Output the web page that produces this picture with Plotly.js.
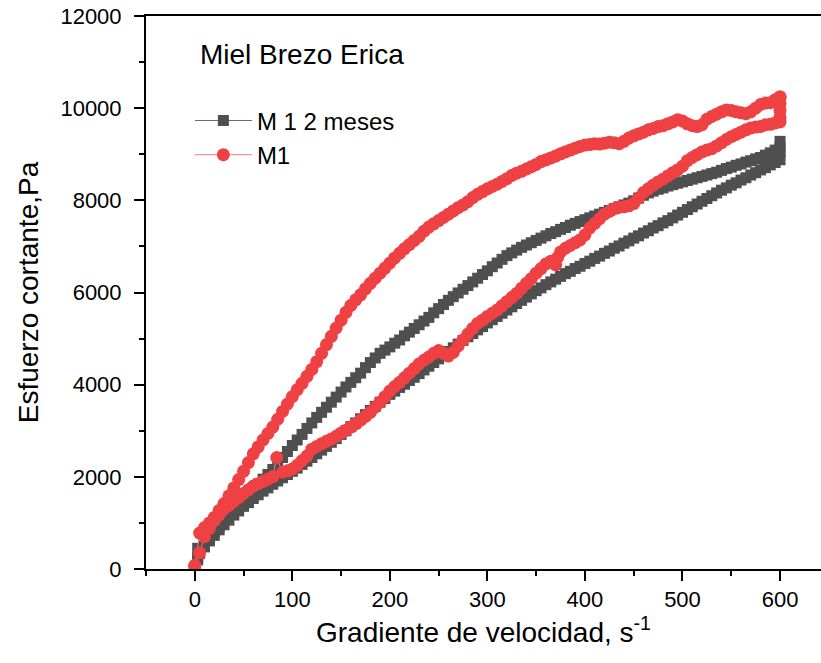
<!DOCTYPE html>
<html>
<head>
<meta charset="utf-8">
<script src="https://cdn.plot.ly/plotly-3.0.1.min.js"></script>
<style>html,body{margin:0;padding:0;background:#fff;overflow:hidden}</style>
</head>
<body>
<div id="chart" style="width:821px;height:663px"></div>
<script>
// M 1 2 meses (black squares): up-curve then down-curve
const blackUpX = [3,3,5,10,15,20,25,30,35,40,45,50,55,60,65,70,75,80,85,90,95,100,105,110,115,120,125,130,135,140,145,150,155,160,165,170,175,180,185,190,195,200,205,210,215,220,225,230,235,240,245,250,255,260,265,270,275,280,285,290,295,300,305,310,315,320,325,330,335,340,345,350,355,360,365,370,375,380,385,390,395,400,405,410,415,420,425,430,435,440,445,450,455,460,465,470,475,480,485,490,495,500,505,510,515,520,525,530,535,540,545,550,555,560,565,570,575,580,585,590,595,600,600];
const blackUpY = [200,450,340,480,650,800,930,1060,1180,1300,1410,1520,1630,1740,1845,1950,2050,2160,2290,2420,2550,2680,2800,2920,3050,3170,3290,3400,3510,3620,3730,3840,3950,4050,4150,4250,4370,4480,4580,4680,4750,4820,4900,4970,5060,5140,5220,5300,5380,5460,5560,5650,5740,5830,5910,5990,6070,6150,6230,6310,6390,6470,6560,6640,6720,6800,6860,6920,6980,7030,7080,7130,7180,7230,7280,7320,7370,7410,7460,7500,7540,7580,7620,7660,7700,7740,7780,7820,7860,7900,7940,7990,8050,8110,8160,8200,8240,8270,8310,8340,8370,8400,8430,8460,8490,8520,8550,8580,8610,8650,8690,8720,8760,8790,8830,8860,8900,8930,8980,9030,9090,9150,9280];
const blackDownX = [600,600,595,590,585,580,575,570,565,560,555,550,545,540,535,530,525,520,515,510,505,500,495,490,485,480,475,470,465,460,455,450,445,440,435,430,425,420,415,410,405,400,395,390,385,380,375,370,365,360,355,350,345,340,335,330,325,320,315,310,305,300,295,290,285,280,275,270,265,260,255,250,245,240,235,230,225,220,215,210,205,200,195,190,185,180,175,170,165,160,155,150,145,140,135,130,125,120,115,110,105,100,95,90,85,80,75,70,65,60,55,50,45,40,35,30,25,20,15,10,5,3];
const blackDownY = [9030,8880,8820,8770,8710,8660,8600,8550,8490,8440,8380,8330,8270,8220,8160,8100,8040,7980,7920,7860,7800,7740,7680,7620,7560,7510,7450,7400,7340,7290,7230,7180,7120,7070,7010,6960,6900,6850,6790,6740,6680,6630,6570,6520,6460,6410,6350,6290,6230,6170,6100,6040,5970,5900,5830,5760,5690,5620,5550,5480,5410,5340,5260,5190,5110,5040,4960,4880,4800,4720,4640,4560,4480,4400,4320,4240,4160,4090,4010,3940,3860,3790,3700,3620,3530,3440,3350,3260,3170,3090,3000,2920,2830,2750,2660,2580,2500,2420,2340,2270,2190,2120,2050,1980,1910,1840,1760,1690,1610,1530,1440,1360,1260,1170,1060,960,850,730,610,490,360,250];

// M1 (red circles): up-curve then down-curve
const redUpX = [0,5,10,15,20,25,30,35,40,45,50,55,60,65,70,75,80,85,90,95,100,105,110,115,120,125,130,135,140,145,150,155,160,165,170,175,180,185,190,195,200,205,210,215,220,225,230,235,240,245,250,255,260,265,270,275,280,285,290,295,300,305,310,315,320,325,330,335,340,345,350,355,360,365,370,375,380,385,390,395,400,405,410,415,420,425,430,435,440,445,450,455,460,465,470,475,480,485,490,495,500,505,510,515,520,525,530,535,540,545,550,555,560,565,570,575,580,585,590,595,600,600,600,600,600];
const redUpY = [50,780,900,1000,1120,1270,1420,1590,1760,1940,2120,2310,2500,2650,2800,2940,3080,3250,3420,3580,3740,3890,4030,4180,4330,4500,4680,4870,5050,5230,5400,5570,5720,5840,5950,6080,6200,6310,6420,6530,6640,6750,6850,6950,7040,7130,7220,7330,7420,7490,7560,7630,7700,7770,7840,7900,7970,8060,8130,8190,8250,8300,8350,8410,8470,8540,8590,8630,8680,8730,8780,8840,8880,8920,8960,9010,9050,9090,9130,9170,9200,9210,9230,9220,9240,9260,9250,9230,9280,9350,9400,9440,9480,9530,9560,9600,9620,9660,9700,9750,9720,9660,9620,9600,9640,9760,9820,9870,9920,9960,9950,9920,9900,9880,9920,10000,10080,10110,10120,10180,10220,10250,10100,9950,9800];
const redDownX = [600,595,590,585,580,575,570,565,560,555,550,545,540,535,530,525,520,515,510,505,500,495,490,485,480,475,470,465,460,455,450,445,440,435,430,425,420,415,410,405,400,395,390,385,380,375,372,370,365,360,355,350,345,340,335,330,325,320,315,310,305,300,295,290,285,280,275,270,265,260,255,250,245,240,235,230,225,220,215,210,205,200,195,190,185,180,175,170,165,160,155,150,145,140,135,130,125,120,115,110,105,100,95,90,84,80,75,70,65,60,55,50,45,40,35,30,25,20,15,10,5,0];
const redDownY = [9700,9680,9650,9640,9600,9590,9570,9530,9480,9430,9380,9320,9250,9180,9120,9090,9050,8990,8930,8860,8740,8660,8600,8530,8460,8400,8330,8250,8170,8050,7930,7880,7860,7850,7820,7760,7700,7600,7500,7400,7250,7140,7080,7020,6960,6880,6760,6600,6680,6620,6520,6420,6300,6200,6090,5980,5890,5800,5710,5620,5550,5480,5400,5330,5220,5100,4970,4840,4700,4620,4680,4740,4680,4600,4530,4450,4350,4250,4150,4050,3960,3860,3740,3620,3510,3400,3310,3230,3150,3080,3010,2950,2880,2820,2770,2720,2660,2600,2450,2350,2250,2170,2130,2100,2420,2000,1950,1900,1850,1800,1720,1640,1550,1470,1380,1300,1170,1050,880,700,350,80];

const seriesNames = ['M 1 2 meses', 'M1'];
const chartTitle = 'Miel Brezo Erica';
const xTitle = 'Gradiente de velocidad, s<sup>-1</sup>';
const yTitle = 'Esfuerzo cortante,Pa';

const FONT = 'Arial, "Liberation Sans", sans-serif';

const traces = [
  {
    x: blackUpX.concat(blackDownX), y: blackUpY.concat(blackDownY),
    name: seriesNames[0], type: 'scatter', mode: 'lines+markers',
    line: {color: '#6a6a6a', width: 1},
    marker: {symbol: 'square', size: 11, color: '#4f4f4f'}
  },
  {
    x: redUpX.concat(redDownX), y: redUpY.concat(redDownY),
    name: seriesNames[1], type: 'scatter', mode: 'lines+markers',
    line: {color: '#f27a7a', width: 1},
    marker: {symbol: 'circle', size: 13, color: '#ef4143'}
  }
];

const layout = {
  width: 821, height: 663,
  margin: {l: 146, r: 0, t: 16, b: 94, pad: 0},
  paper_bgcolor: '#ffffff', plot_bgcolor: '#ffffff',
  font: {family: FONT, color: '#000000'},
  showlegend: true,
  legend: {
    x: 0.065, y: 0.851, xanchor: 'left', yanchor: 'top',
    font: {family: FONT, size: 24, color: '#000'},
    bgcolor: 'rgba(0,0,0,0)', itemwidth: 57, tracegroupgap: 0
  },
  annotations: [{
    text: chartTitle, xref: 'paper', yref: 'paper',
    x: (198 - 146) / 675, y: (569 - 55) / 553, xanchor: 'left', yanchor: 'middle',
    showarrow: false, font: {family: FONT, size: 28, color: '#000'}
  }],
  xaxis: {
    range: [-50, 642], tick0: 0, dtick: 100,
    ticks: 'outside', ticklen: 10, tickwidth: 2, tickcolor: '#000',
    showline: true, mirror: true, linewidth: 2, linecolor: '#000',
    showgrid: false, zeroline: false,
    tickfont: {family: FONT, size: 22, color: '#000'},
    minor: {dtick: 50, ticks: 'outside', ticklen: 5, tickwidth: 2, tickcolor: '#000', showgrid: false},
    title: {text: xTitle, font: {family: FONT, size: 28, color: '#000'}, standoff: 10}
  },
  yaxis: {
    range: [0, 12000], tick0: 0, dtick: 2000, tickformat: 'd',
    ticks: 'outside', ticklen: 10, tickwidth: 2, tickcolor: '#000',
    showline: true, mirror: false, linewidth: 2, linecolor: '#000',
    showgrid: false, zeroline: false,
    tickfont: {family: FONT, size: 22, color: '#000'},
    ticklabelstandoff: 8,
    minor: {dtick: 1000, ticks: 'outside', ticklen: 5, tickwidth: 2, tickcolor: '#000', showgrid: false},
    title: {text: yTitle, font: {family: FONT, size: 28, color: '#000'}, standoff: 14}
  }
};

Plotly.newPlot('chart', traces, layout, {displayModeBar: false, staticPlot: true});
</script>
</body>
</html>
